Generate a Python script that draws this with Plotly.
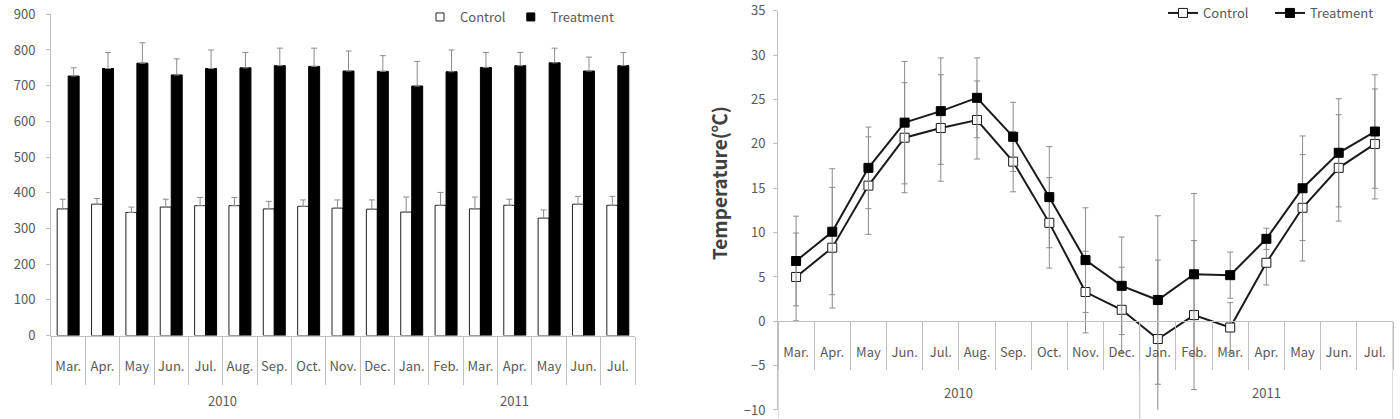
import plotly.graph_objects as go

# ---------------- data ----------------
months = ["Mar.", "Apr.", "May", "Jun.", "Jul.", "Aug.", "Sep.", "Oct.", "Nov.", "Dec.",
          "Jan.", "Feb.", "Mar.", "Apr.", "May", "Jun.", "Jul."]
years = ["2010"] * 10 + ["2011"] * 7

bar_control = [355, 368, 345, 360, 364, 364, 355, 362, 357, 354, 346, 365, 355, 365, 329, 368, 365]
bar_control_err = [27, 16, 15, 22, 23, 23, 21, 18, 23, 26, 42, 36, 33, 17, 23, 22, 25]
bar_treat = [727, 748, 763, 730, 748, 750, 756, 754, 741, 740, 699, 739, 751, 756, 764, 741, 756]
bar_treat_err = [23, 45, 57, 45, 52, 43, 49, 51, 56, 44, 69, 61, 42, 37, 41, 39, 37]

temp_control = [5.0, 8.3, 15.3, 20.7, 21.8, 22.7, 18.0, 11.1, 3.3, 1.3, -2.0, 0.7, -0.7, 6.6, 12.8, 17.3, 20.0]
temp_control_err = [4.95, 6.8, 5.5, 6.2, 6.0, 4.4, 3.4, 5.1, 4.6, 4.8, 8.9, 8.4, 2.8, 2.5, 6.0, 6.0, 6.2]
temp_treat = [6.8, 10.1, 17.3, 22.4, 23.7, 25.2, 20.8, 14.0, 6.9, 4.0, 2.4, 5.3, 5.2, 9.3, 15.0, 19.0, 21.4]
temp_treat_err = [5.05, 7.1, 4.6, 6.9, 6.0, 4.5, 3.9, 5.7, 5.9, 5.5, 9.5, 9.1, 2.6, 1.2, 5.9, 6.1, 6.4]

# ---------------- derived helpers ----------------
idx = list(range(len(months)))
boundaries = [i - 0.5 for i in range(len(months) + 1)]
groups = []
for i, y in enumerate(years):
    if not groups or groups[-1][0] != y:
        groups.append([y, i, i])
    else:
        groups[-1][2] = i
group_centers = [(g[1] + g[2]) / 2 for g in groups]
group_edges = [groups[0][1] - 0.5] + [g[2] + 0.5 for g in groups]

FONT = "Noto Sans CJK KR"
TXT = "#595959"
AX = "#bfbfbf"
ERR = "#8c8c8c"

fig = go.Figure()

# ---------------- left chart: bars ----------------
fig.add_trace(go.Bar(
    x=idx, y=bar_control, name="Control", showlegend=False,
    marker=dict(color="white", line=dict(color="#222222", width=1)),
    error_y=dict(type="data", symmetric=False, array=bar_control_err,
                 arrayminus=[0] * len(idx), color=ERR, thickness=1, width=3),
    xaxis="x", yaxis="y",
))
fig.add_trace(go.Bar(
    x=idx, y=bar_treat, name="Treatment", showlegend=False,
    marker=dict(color="black", line=dict(color="black", width=1)),
    error_y=dict(type="data", symmetric=False, array=bar_treat_err,
                 arrayminus=[0] * len(idx), color=ERR, thickness=1, width=3),
    xaxis="x", yaxis="y",
))
# legend keys of the bar chart (small squares, as in the original)
fig.add_trace(go.Scatter(x=[None], y=[None], name="Control", mode="markers",
                         marker=dict(symbol="square", size=8, color="white",
                                     line=dict(color="#222222", width=1)),
                         xaxis="x", yaxis="y", legend="legend"))
fig.add_trace(go.Scatter(x=[None], y=[None], name="Treatment", mode="markers",
                         marker=dict(symbol="square", size=8, color="black",
                                     line=dict(color="black", width=1)),
                         xaxis="x", yaxis="y", legend="legend"))

# ---------------- right chart: lines ----------------
fig.add_trace(go.Scatter(
    x=idx, y=temp_control, name="Control", mode="lines+markers",
    line=dict(color="#1a1a1a", width=2),
    marker=dict(symbol="square", size=9, color="white", line=dict(color="#1a1a1a", width=1)),
    error_y=dict(type="data", array=temp_control_err, color=ERR, thickness=1, width=3),
    xaxis="x2", yaxis="y2", legend="legend2",
))
fig.add_trace(go.Scatter(
    x=idx, y=temp_treat, name="Treatment", mode="lines+markers",
    line=dict(color="#1a1a1a", width=2),
    marker=dict(symbol="square", size=9, color="black", line=dict(color="black", width=1)),
    error_y=dict(type="data", array=temp_treat_err, color=ERR, thickness=1, width=3),
    xaxis="x2", yaxis="y2", legend="legend2",
))

# ---------------- layout ----------------
left_ydom = [0.199, 0.966]
right_ydom = [0.0215, 0.974]
right_yrange = [-10, 35]
axis_pos = right_ydom[0] + (0 - right_yrange[0]) / (right_yrange[1] - right_yrange[0]) * (right_ydom[1] - right_ydom[0])

xcommon = dict(
    range=[boundaries[0], boundaries[-1]], tickmode="array", tickvals=idx, ticktext=months,
    ticks="", showgrid=False, zeroline=False, showline=True, linecolor=AX, linewidth=1,
    tickfont=dict(family=FONT, size=13, color=TXT), ticklabelstandoff=19, automargin=False,
    minor=dict(tickmode="array", tickvals=boundaries, ticks="outside", ticklen=48,
               tickcolor=AX, tickwidth=1, showgrid=False),
)
ycommon = dict(showgrid=False, zeroline=False, showline=True, linecolor=AX, linewidth=1,
               ticks="outside", ticklen=4, tickcolor=AX, automargin=False,
               tickfont=dict(family=FONT, size=13, color=TXT))

fig.update_layout(
    template="none",
    width=1400, height=419,
    margin=dict(l=0, r=0, t=0, b=0, autoexpand=False),
    paper_bgcolor="white", plot_bgcolor="white",
    barmode="group", bargap=0.36, bargroupgap=0,
    showlegend=True,
    xaxis=dict(domain=[51 / 1400, 635 / 1400], anchor="y", **xcommon),
    yaxis=dict(domain=left_ydom, range=[0, 900], dtick=100, tick0=0, anchor="x",
               ticklabelstandoff=8, **ycommon),
    xaxis2=dict(domain=[778 / 1400, 1393 / 1400], anchor="free", position=axis_pos, **xcommon),
    yaxis2=dict(domain=right_ydom, range=right_yrange, dtick=5, tick0=0, anchor="x2",
                ticklabelstandoff=5, **ycommon),
    legend=dict(orientation="h", x=420 / 1400, y=1 - 17 / 419, xanchor="left", yanchor="middle",
                font=dict(family=FONT, size=13, color=TXT), bgcolor="rgba(0,0,0,0)",
                itemwidth=30, traceorder="normal"),
    legend2=dict(orientation="h", x=1163 / 1400, y=1 - 13 / 419, xanchor="left", yanchor="middle",
                 font=dict(family=FONT, size=13, color=TXT), bgcolor="rgba(0,0,0,0)",
                 itemwidth=30, entrywidth=62, traceorder="normal"),
)

# year labels
for name_g, cx in zip([g[0] for g in groups], group_centers):
    fig.add_annotation(x=cx, xref="x", y=1 - 400 / 419, yref="paper", yanchor="middle",
                       text=name_g, showarrow=False, font=dict(family=FONT, size=13, color=TXT))
    fig.add_annotation(x=cx, xref="x2", y=1 - 392 / 419, yref="paper", yanchor="middle",
                       text=name_g, showarrow=False, font=dict(family=FONT, size=13, color=TXT))

# long group dividers on the right chart
for e in group_edges:
    fig.add_shape(type="line", xref="x2", yref="paper", x0=e, x1=e, y0=0, y1=axis_pos,
                  line=dict(color=AX, width=1))

# y title of right chart
fig.add_annotation(x=718 / 1400, xref="paper", y=1 - 183 / 419, yref="paper",
                   xanchor="center", yanchor="middle",
                   text="<b>Temperature(℃)</b>", textangle=-90, showarrow=False,
                   font=dict(family=FONT, size=19, color="#404040"))

fig.write_html("out.html")
